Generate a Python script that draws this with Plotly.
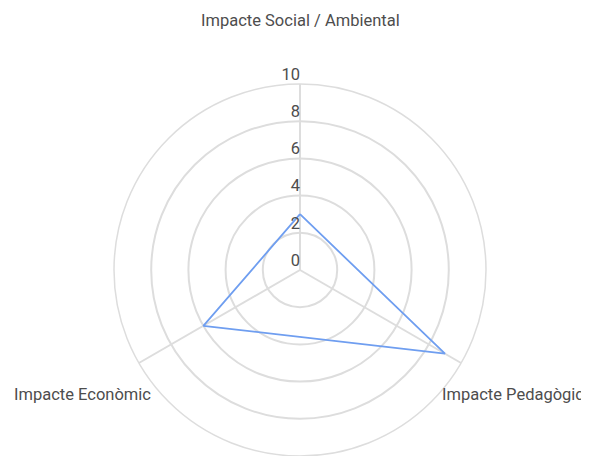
import plotly.graph_objects as go

categories = ["Impacte Social / Ambiental", "Impacte Pedagògic", "Impacte Econòmic"]
values = [3, 9, 6]
radial_ticks = [0, 2, 4, 6, 8, 10]

# the page body has an 8px default margin; work in page pixels and shift
OFF = 8
W, H = 589 - OFF, 456 - OFF
cx, cy, R = 300 - OFF, 272 - OFF, 188
FS = 16.5
TXT = "#4d4d4d"

fig = go.Figure()
fig.add_trace(go.Scatterpolar(
    r=values + values[:1],
    theta=categories + categories[:1],
    mode="lines",
    line=dict(color="#6f9ef0", width=1.8),
    hoverinfo="skip",
))
# radial tick labels, placed top-left of each ring crossing on the top spoke
fig.add_trace(go.Scatterpolar(
    r=radial_ticks,
    theta=[categories[0]] * len(radial_ticks),
    mode="text",
    text=[str(t) for t in radial_ticks],
    textposition="top left",
    textfont=dict(family="Roboto", size=FS, color=TXT),
    hoverinfo="skip",
))

fig.update_layout(
    width=W, height=H,
    margin=dict(l=0, r=0, t=0, b=0),
    paper_bgcolor="white",
    showlegend=False,
    font=dict(family="Roboto", size=FS, color=TXT),
    polar=dict(
        domain=dict(x=[(cx - R) / W, (cx + R) / W],
                    y=[max(0, (H - cy - R) / H), (H - cy + R) / H]),
        bgcolor="white",
        radialaxis=dict(
            range=[0, 10], tickvals=radial_ticks, showticklabels=False,
            angle=90, showline=False, gridcolor="#dddddd", gridwidth=1.5, ticks="",
        ),
        angularaxis=dict(
            direction="clockwise", rotation=90, showticklabels=False,
            gridcolor="#dddddd", gridwidth=1.5, showline=True, linecolor="#dddddd", linewidth=1.5,
            ticks="",
        ),
    ),
)

label_pos = [
    (300, 21, "center"),
    (440, 394, "left"),
    (153, 394, "right"),
]
for name, (x, y, anchor) in zip(categories, label_pos):
    fig.add_annotation(text=name, x=(x - OFF) / W, y=1 - (y - OFF) / H,
                       xref="paper", yref="paper",
                       xanchor=anchor, yanchor="middle", showarrow=False,
                       font=dict(family="Roboto", size=FS, color=TXT))

fig.write_html("out.html")
